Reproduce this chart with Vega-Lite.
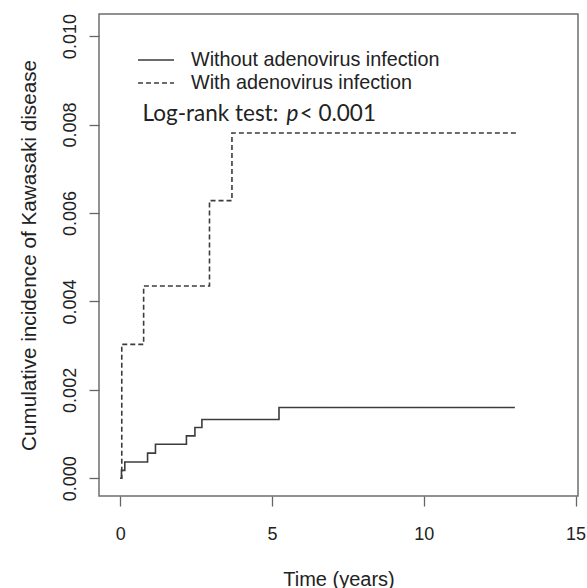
{
  "$schema": "https://vega.github.io/schema/vega-lite/v6.json",
  "width": 479,
  "height": 482,
  "autosize": "none",
  "padding": {"left": 99, "top": 14, "right": 9, "bottom": 92},
  "background": "white",
  "config": {
    "view": {"stroke": "#6e6e6e", "strokeWidth": 1.5},
    "font": "Liberation Sans"
  },
  "layer": [
    {
      "data": {
        "values": [
          {"group": "Without adenovirus infection", "time": 0, "incidence": 0},
          {"group": "Without adenovirus infection", "time": 0.04, "incidence": 0.00018},
          {"group": "Without adenovirus infection", "time": 0.15, "incidence": 0.00037},
          {"group": "Without adenovirus infection", "time": 0.9, "incidence": 0.00057},
          {"group": "Without adenovirus infection", "time": 1.16, "incidence": 0.00077},
          {"group": "Without adenovirus infection", "time": 2.18, "incidence": 0.00096},
          {"group": "Without adenovirus infection", "time": 2.46, "incidence": 0.00115},
          {"group": "Without adenovirus infection", "time": 2.69, "incidence": 0.00133},
          {"group": "Without adenovirus infection", "time": 5.23, "incidence": 0.0016},
          {"group": "Without adenovirus infection", "time": 13.0, "incidence": 0.0016},
          {"group": "With adenovirus infection", "time": 0, "incidence": 0},
          {"group": "With adenovirus infection", "time": 0.05, "incidence": 0.00303},
          {"group": "With adenovirus infection", "time": 0.77, "incidence": 0.00435},
          {"group": "With adenovirus infection", "time": 2.94, "incidence": 0.00628},
          {"group": "With adenovirus infection", "time": 3.68, "incidence": 0.00781},
          {"group": "With adenovirus infection", "time": 13.05, "incidence": 0.00781}
        ]
      },
      "mark": {"type": "line", "interpolate": "step-after", "color": "#3c3c3c", "strokeWidth": 1.6},
      "encoding": {
        "x": {
          "field": "time", "type": "quantitative",
          "scale": {"domain": [-0.7, 15.08], "nice": false, "zero": false},
          "axis": {
            "values": [0, 5, 10, 15], "domain": false, "grid": false,
            "tickSize": 10, "tickColor": "#666666", "tickWidth": 1.3,
            "labelFontSize": 18, "labelColor": "#222222", "labelBaseline": "middle", "labelPadding": 28,
            "title": "Time (years)", "titleFontSize": 20, "titleFontWeight": "normal", "titleColor": "#222222", "titlePadding": 26
          }
        },
        "y": {
          "field": "incidence", "type": "quantitative",
          "scale": {"domain": [-0.0004, 0.0105], "nice": false, "zero": false},
          "axis": {
            "values": [0, 0.002, 0.004, 0.006, 0.008, 0.01], "format": ".3f", "domain": false, "grid": false,
            "tickSize": 10, "tickColor": "#666666", "tickWidth": 1.3,
            "labelFontSize": 18, "labelColor": "#222222", "labelAngle": 270, "labelAlign": "center", "labelBaseline": "middle", "labelPadding": 19,
            "title": "Cumulative incidence of Kawasaki disease", "titleFontSize": 20.7, "titleFontWeight": "normal", "titleColor": "#222222", "titlePadding": 22
          }
        },
        "strokeDash": {
          "field": "group", "type": "nominal",
          "scale": {"domain": ["Without adenovirus infection", "With adenovirus infection"], "range": [[1, 0], [5, 3]]},
          "legend": {
            "orient": "none", "legendX": 38, "legendY": 36, "title": null,
            "symbolType": "stroke", "symbolSize": 1296, "symbolStrokeWidth": 1.5, "symbolStrokeColor": "#3c3c3c",
            "clipHeight": 20, "rowPadding": 3, "labelOffset": 16,
            "labelFont": "Liberation Sans", "labelFontSize": 19.8, "labelColor": "#222222", "labelLimit": 400
          }
        }
      }
    },
    {
      "data": {"values": [
        {"x": 0.735, "y": 0.008235, "t": "Log-rank test:"},
        {"x": 5.91, "y": 0.008235, "t": "< 0.001"}
      ]},
      "mark": {"type": "text", "align": "left", "baseline": "middle", "font": "Lato", "fontSize": 22.5, "color": "#222222"},
      "encoding": {
        "x": {"field": "x", "type": "quantitative"},
        "y": {"field": "y", "type": "quantitative"},
        "text": {"field": "t"}
      }
    },
    {
      "data": {"values": [
        {"x": 5.48, "y": 0.008235, "t": "p"}
      ]},
      "mark": {"type": "text", "align": "left", "baseline": "middle", "font": "Lato", "fontSize": 22.5, "fontStyle": "italic", "color": "#222222"},
      "encoding": {
        "x": {"field": "x", "type": "quantitative"},
        "y": {"field": "y", "type": "quantitative"},
        "text": {"field": "t"}
      }
    }
  ]
}
